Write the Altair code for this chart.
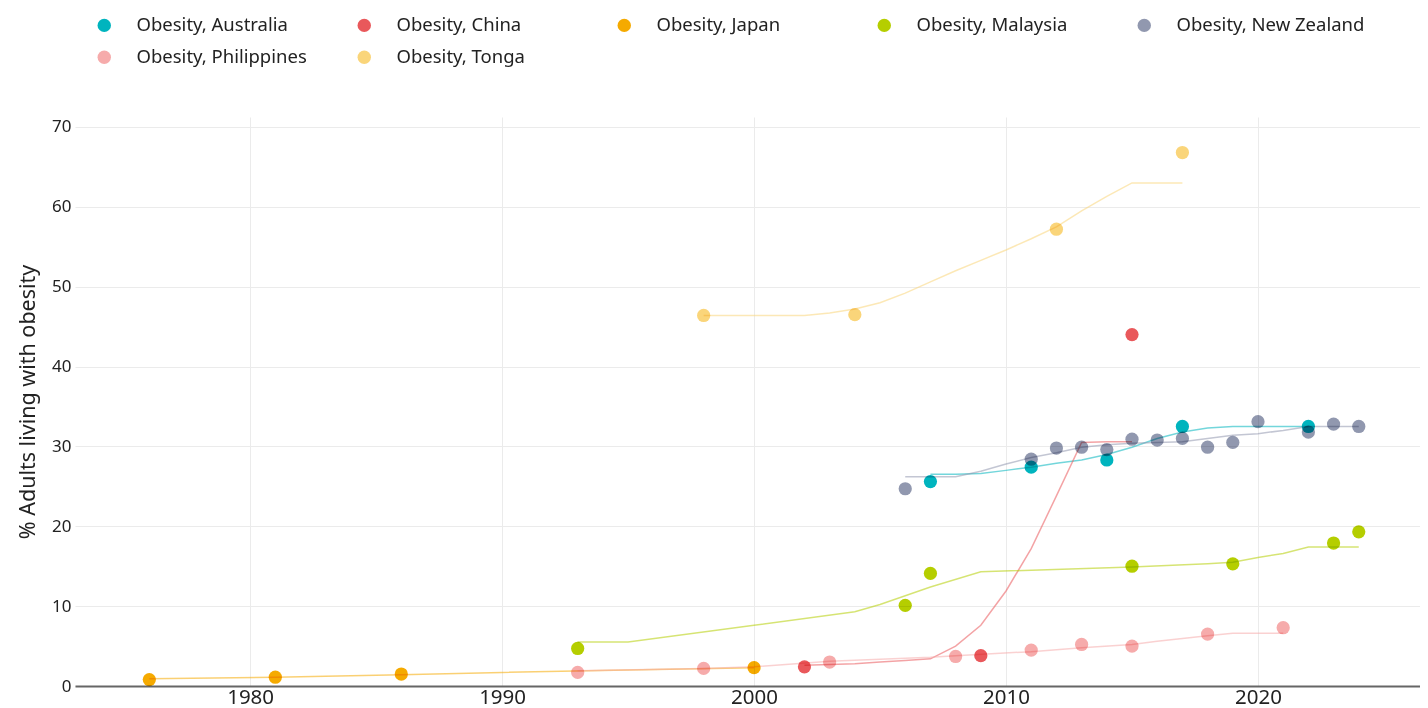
import altair as alt
import pandas as pd

series = ["Obesity, Australia", "Obesity, China", "Obesity, Japan", "Obesity, Malaysia",
          "Obesity, New Zealand", "Obesity, Philippines", "Obesity, Tonga"]
colors = ["#00B4BE", "#E9585B", "#F5AA00", "#B5CE00", "#9198AF", "#F6ABAB", "#FAD57A"]

# observed points
aus_years = [2007, 2011, 2014, 2017, 2022]
aus_values = [25.6, 27.4, 28.3, 32.5, 32.5]
chn_years = [2002, 2009, 2015]
chn_values = [2.4, 3.8, 44.0]
jpn_years = [1976, 1981, 1986, 2000]
jpn_values = [0.8, 1.1, 1.5, 2.3]
mys_years = [1993, 2006, 2007, 2015, 2019, 2023, 2024]
mys_values = [4.7, 10.1, 14.1, 15.0, 15.3, 17.9, 19.3]
nzl_years = [2006, 2011, 2012, 2013, 2014, 2015, 2016, 2017, 2018, 2019, 2020, 2022, 2023, 2024]
nzl_values = [24.7, 28.4, 29.8, 29.9, 29.6, 30.9, 30.8, 31.0, 29.9, 30.5, 33.1, 31.8, 32.8, 32.5]
phl_years = [1993, 1998, 2003, 2008, 2011, 2013, 2015, 2018, 2021]
phl_values = [1.7, 2.2, 3.0, 3.7, 4.5, 5.2, 5.0, 6.5, 7.3]
ton_years = [1998, 2004, 2012, 2017]
ton_values = [46.4, 46.5, 57.2, 66.8]

# trend lines
aus_trend_years = [2007, 2008, 2009, 2010, 2011, 2012, 2013, 2014, 2015, 2016, 2017, 2018, 2019, 2020, 2021, 2022]
aus_trend_values = [26.5, 26.5, 26.6, 27.0, 27.4, 27.9, 28.3, 29.0, 29.9, 31.0, 31.8, 32.3, 32.5, 32.5, 32.5, 32.5]
chn_trend_years = [2002, 2003, 2004, 2005, 2006, 2007, 2008, 2009, 2010, 2011, 2012, 2013, 2014, 2015]
chn_trend_values = [2.6, 2.7, 2.8, 3.0, 3.2, 3.4, 5.0, 7.6, 11.9, 17.2, 23.8, 30.5, 30.6, 30.6]
jpn_trend_years = [1976, 1981, 1986, 1990, 1995, 2000]
jpn_trend_values = [0.9, 1.1, 1.4, 1.7, 2.0, 2.3]
mys_trend_years = [1993, 1995, 2000, 2004, 2005, 2007, 2009, 2015, 2018, 2019, 2020, 2021, 2022, 2023, 2024]
mys_trend_values = [5.5, 5.5, 7.6, 9.3, 10.2, 12.4, 14.3, 14.9, 15.3, 15.5, 16.1, 16.6, 17.4, 17.4, 17.4]
nzl_trend_years = [2006, 2007, 2008, 2009, 2010, 2011, 2012, 2013, 2014, 2015, 2016, 2017, 2018, 2019, 2020, 2021, 2022, 2023, 2024]
nzl_trend_values = [26.2, 26.2, 26.2, 26.9, 27.8, 28.6, 29.2, 29.9, 30.2, 30.4, 30.5, 30.6, 31.0, 31.4, 31.6, 32.0, 32.5, 32.5, 32.5]
phl_trend_years = [1993, 1998, 2000, 2003, 2007, 2008, 2011, 2013, 2015, 2016, 2018, 2019, 2020, 2021]
phl_trend_values = [1.9, 2.2, 2.4, 3.1, 3.6, 3.8, 4.3, 4.8, 5.2, 5.6, 6.3, 6.6, 6.6, 6.6]
ton_trend_years = [1998, 2000, 2002, 2003, 2004, 2005, 2006, 2007, 2008, 2009, 2010, 2011, 2012, 2013, 2014, 2015, 2016, 2017]
ton_trend_values = [46.4, 46.4, 46.4, 46.7, 47.2, 48.0, 49.2, 50.6, 52.0, 53.3, 54.6, 56.0, 57.5, 59.5, 61.3, 63.0, 63.0, 63.0]

x_ticks = [1980, 1990, 2000, 2010, 2020]
y_ticks = [0, 10, 20, 30, 40, 50, 60, 70]

point_sets = [(aus_years, aus_values), (chn_years, chn_values), (jpn_years, jpn_values),
              (mys_years, mys_values), (nzl_years, nzl_values), (phl_years, phl_values),
              (ton_years, ton_values)]
trend_sets = [(aus_trend_years, aus_trend_values), (chn_trend_years, chn_trend_values),
              (jpn_trend_years, jpn_trend_values), (mys_trend_years, mys_trend_values),
              (nzl_trend_years, nzl_trend_values), (phl_trend_years, phl_trend_values),
              (ton_trend_years, ton_trend_values)]

pts_rows = []
for name, (ys, vs) in zip(series, point_sets):
    for y, v in zip(ys, vs):
        pts_rows.append({"series": name, "year": y, "value": v})
trend_rows = []
for name, (ys, vs) in zip(series, trend_sets):
    for y, v in zip(ys, vs):
        trend_rows.append({"series": name, "year": y, "value": v})

pts = pd.DataFrame(pts_rows)
trend = pd.DataFrame(trend_rows)

FONT = "Noto Sans"

x_enc = alt.X("year:Q",
              scale=alt.Scale(domain=[1973.05, 2026.43], nice=False, zero=False),
              axis=alt.Axis(values=x_ticks, format="d", title=None, grid=True,
                            gridColor="#EBEBEB", gridWidth=1, ticks=False,
                            domainColor="#666666", domainWidth=2,
                            labelFontSize=20.5, labelColor="#222222", labelPadding=1,
                            labelFont=FONT))
y_enc = alt.Y("value:Q",
              scale=alt.Scale(domain=[0, 71.25], nice=False),
              axis=alt.Axis(values=y_ticks, title="% Adults living with obesity",
                            grid=True, gridColor="#EBEBEB", gridWidth=1, ticks=False,
                            domain=False, labelFontSize=17, labelColor="#222222",
                            labelPadding=4, titleFontSize=21.5, titleFontWeight="normal",
                            titleColor="#222222", titlePadding=12, labelFont=FONT,
                            titleFont=FONT))

color_enc = alt.Color(
    "series:N", scale=alt.Scale(domain=series, range=colors),
    legend=alt.Legend(title=None, orient="none", legendX=20, legendY=-101,
                      direction="horizontal", columns=5, gridAlign="all",
                      columnPadding=30, rowPadding=13, labelLimit=400,
                      labelFontSize=18.5, labelColor="#222222", labelFont=FONT,
                      labelOffset=23, symbolSize=180, symbolType="circle",
                      symbolOpacity=1, symbolStrokeWidth=0, symbolFillColor="#000000",
                      padding=0))

lines = alt.Chart(trend).mark_line(strokeWidth=1.5, strokeOpacity=0.55).encode(
    x=x_enc, y=y_enc, color=color_enc,
)

points = alt.Chart(pts).mark_circle(size=175, opacity=1, blend="multiply").encode(
    x=x_enc, y=y_enc, color=color_enc,
)

chart = alt.layer(lines, points).properties(
    width=1345, height=569,
    autosize=alt.AutoSizeParams(type="none"),
    padding={"left": 67, "top": 109, "right": 0, "bottom": 22},
    background="white",
).configure(font=FONT).configure_view(stroke=None)

chart.save("out.html", embed_options={"renderer": "svg", "actions": False})
